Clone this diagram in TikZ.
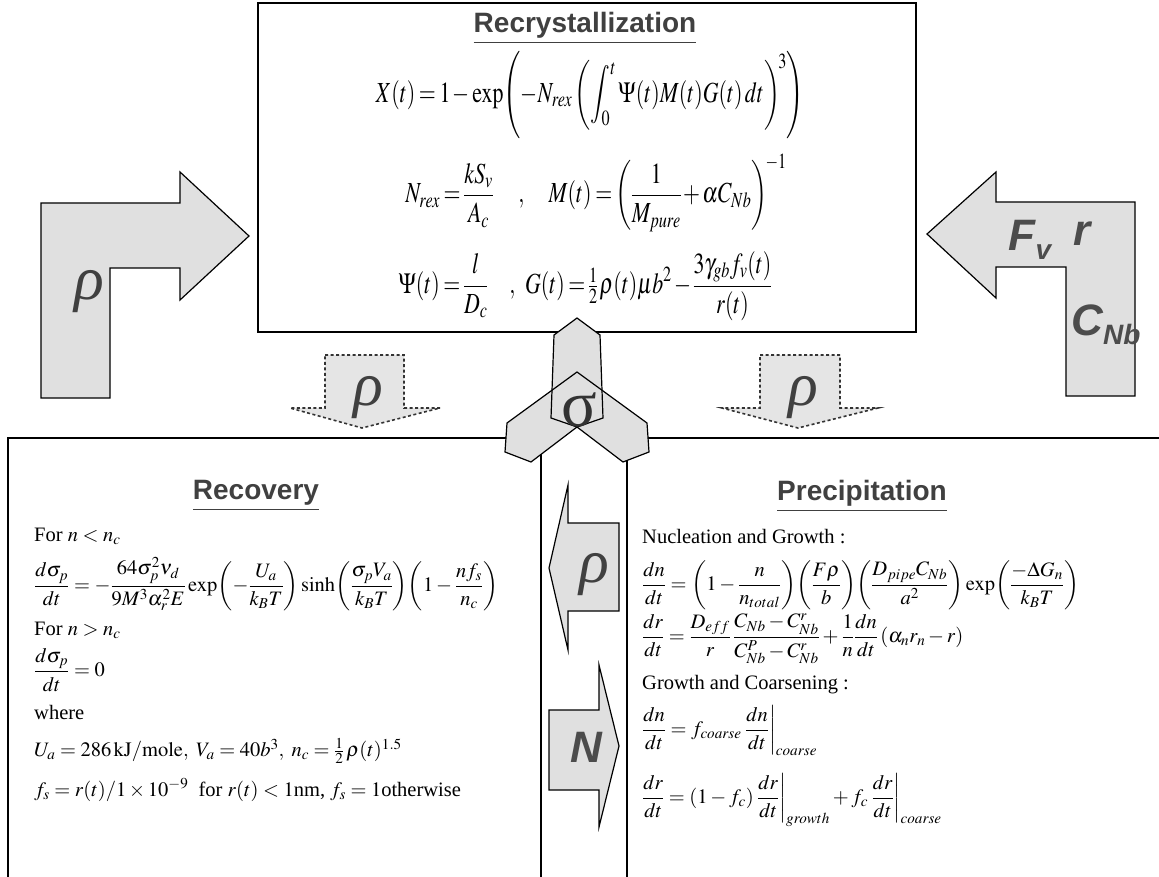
\documentclass[tikz,border=0pt]{standalone}
\usepackage{amsmath}
\usepackage{mathptmx}
\usepackage[no-math]{fontspec}
\setmainfont{Liberation Serif}
\setsansfont{Liberation Sans}
\newcommand{\tightmath}{\thickmuskip=3mu plus 1mu\medmuskip=2mu\thinmuskip=2mu\nulldelimiterspace=0pt}
\begin{document}
\begin{tikzpicture}[x=1pt,y=-1pt,
  frame/.style={draw=black, line width=1.4pt},
  shapefill/.style={fill=black!12, draw=black, line width=1.2pt, line join=miter},
  shapebg/.style={fill=black!12, draw=none},
  shapeline/.style={draw=black, line width=1.2pt, line join=miter},
  dashshape/.style={fill=black!10, draw=black!80, line width=1.6pt, dash pattern=on 3pt off 2.5pt},
  title/.style={font=\sffamily\bfseries\fontsize{28}{32}\selectfont, text=black!75, inner sep=0pt},
  eqbig/.style={font=\fontsize{26}{30}\selectfont\tightmath, inner sep=0pt},
  eqsm/.style={font=\fontsize{20.5}{24}\selectfont, inner sep=0pt, anchor=west},
  biglbl/.style={font=\sffamily\bfseries\itshape\fontsize{44}{44}\selectfont, text=black!70, inner sep=0pt},
  rholbl/.style={font=\itshape\fontsize{62}{62}\selectfont, text=black!75, inner sep=0pt},
  siglbl/.style={font=\fontsize{66}{66}\selectfont, text=black!80, inner sep=0pt}
]
\useasboundingbox (0,0) rectangle (1159,877);
\clip (0,0) rectangle (1159,877);

% boxes
\draw[frame] (258,3) rectangle (916,332);
\draw[frame] (8,880) -- (8,438) -- (541,438) -- (541,880);
\draw[frame] (627,880) -- (627,438) -- (1165,438);

% left L arrow
\draw[shapefill] (41,398) -- (41,203) -- (180,203) -- (180,172) -- (249,236)
  -- (180,300) -- (180,268) -- (110,268) -- (110,398) -- cycle;
% right L arrow
\draw[shapefill] (1135,396) -- (1135,202) -- (996,202) -- (996,172) -- (927,234)
  -- (996,298) -- (996,267) -- (1066,267) -- (1066,396) -- cycle;

% dashed down arrows
\draw[dashshape] (325,355) -- (404,355) -- (404,408) -- (440,408) -- (362,428)
  -- (290,408) -- (325,408) -- cycle;
\draw[dashshape] (760,355) -- (840,355) -- (840,408) -- (878,408) -- (798,428)
  -- (722,408) -- (760,408) -- cycle;

% sigma three-way shape
\fill[shapebg] (577,372) -- (647,423) -- (649,452) -- (623,462) -- (577,427)
  -- (531,462) -- (505,452) -- (507,423) -- cycle;
\fill[shapebg] (577,318) -- (600,335) -- (603,418) -- (577,427) -- (551,418) -- (554,335) -- cycle;
\draw[shapeline] (577,372) -- (647,423) -- (649,452) -- (623,462) -- (577,427)
  -- (531,462) -- (505,452) -- (507,423) -- cycle;
\draw[shapeline] (577,318) -- (600,335) -- (603,418) -- (577,427) -- (551,418) -- (554,335) -- cycle;

% channel arrows
\draw[shapefill] (619,523) -- (568,523) -- (568,485) -- (549,568) -- (568,650)
  -- (568,611) -- (619,611) -- cycle;
\draw[shapefill] (549,710) -- (599,710) -- (599,665) -- (619,746) -- (599,827)
  -- (599,790) -- (549,790) -- cycle;

% arrow labels
\node[rholbl] (rhoA) at (89,292) {ρ};
\node[biglbl] (Fv) at (1030,240) {F\raisebox{-9pt}{\fontsize{28}{28}\selectfont v}};
\node[biglbl] (rA) at (1082,234) {r};
\node[biglbl] (CNb) at (1106,325) {C\raisebox{-9pt}{\fontsize{28}{28}\selectfont Nb}};
\node[rholbl] (rhoB) at (368,398) {ρ};
\node[rholbl] (rhoC) at (803,398) {ρ};
\node[siglbl] (sig) at (579,410) {σ};
\node[rholbl] (rhoD) at (594,575) {ρ};
\node[biglbl] (N) at (586,747) {N};

% top box content
\node[title] (t1) at (585,28) {\underline{Recrystallization}};
\node[eqbig] (e1) at (590,95) {\scalebox{0.84}[1.12]{$\displaystyle X(t)=1-\exp\Biggl(-N_{rex}\left(\int_0^t\Psi(t)M(t)G(t)\,dt\right)^{\!3}\Biggr)$}};
\node[eqbig] (e2) at (596,193) {\scalebox{0.84}[1.12]{$\displaystyle N_{rex}=\frac{kS_v}{A_c}\quad\;,\quad M(t)=\left(\frac{1}{M_{pure}}+\alpha C_{Nb}\right)^{\!-1}$}};
\node[eqbig] (e3) at (585,286) {\scalebox{0.84}[1.12]{$\displaystyle \Psi(t)=\frac{l}{D_c}\quad,\;\; G(t)=\tfrac{1}{2}\,\rho(t)\mu b^2-\frac{3\gamma_{gb}f_v(t)}{r(t)}$}};

% recovery
\node[title] (t2) at (256,496) {\underline{Recovery}};
\node[eqsm] (r1) at (34,536) {For $n<n_c$};
\node[eqsm] (r2) at (34,584) {$\displaystyle \frac{d\sigma_p}{dt}=-\frac{64\sigma_p^2\nu_d}{9M^3\alpha_r^2E}\exp\!\left(-\frac{U_a}{k_BT}\right)\sinh\!\left(\frac{\sigma_pV_a}{k_BT}\right)\!\left(1-\frac{nf_s}{n_c}\right)$};
\node[eqsm] (r3) at (34,630) {For $n>n_c$};
\node[eqsm] (r4) at (34,670) {$\displaystyle \frac{d\sigma_p}{dt}=0$};
\node[eqsm] (r5) at (34,712) {where};
\node[eqsm] (r6) at (34,751) {$U_a=286\,\mathrm{kJ/mole},\ V_a=40b^3,\ n_c=\tfrac{1}{2}\,\rho(t)^{1.5}$};
\node[eqsm] (r7) at (34,790) {$f_s=r(t)/1\times10^{-9}$\ \ for $r(t)<1$nm, $f_s=1$otherwise};

% precipitation
\node[title] (t3) at (862,496) {\underline{Precipitation}};
\node[eqsm] (p1) at (642,537) {Nucleation and Growth :};
\node[eqsm] (p2) at (642,585) {$\displaystyle\frac{dn}{dt}=\left(1-\frac{n}{n_{total}}\right)\!\left(\frac{F\rho}{b}\right)\!\left(\frac{D_{pipe}C_{Nb}}{a^2}\right)\exp\!\left(\frac{-\Delta G_n}{k_BT}\right)$};
\node[eqsm] (p3) at (642,639) {$\displaystyle\frac{dr}{dt}=\frac{D_{eff}}{r}\,\frac{C_{Nb}-C^r_{Nb}}{C^P_{Nb}-C^r_{Nb}}+\frac{1}{n}\frac{dn}{dt}\left(\alpha_nr_n-r\right)$};
\node[eqsm] (p4) at (642,685) {Growth and Coarsening :};
\node[eqsm] (p5) at (642,731) {$\displaystyle\frac{dn}{dt}=f_{coarse}\left.\frac{dn}{dt}\right|_{coarse}$};
\node[eqsm] (p6) at (642,800) {$\displaystyle\frac{dr}{dt}=\left(1-f_c\right)\left.\frac{dr}{dt}\right|_{growth}+f_c\left.\frac{dr}{dt}\right|_{coarse}$};
\end{tikzpicture}
\end{document}
